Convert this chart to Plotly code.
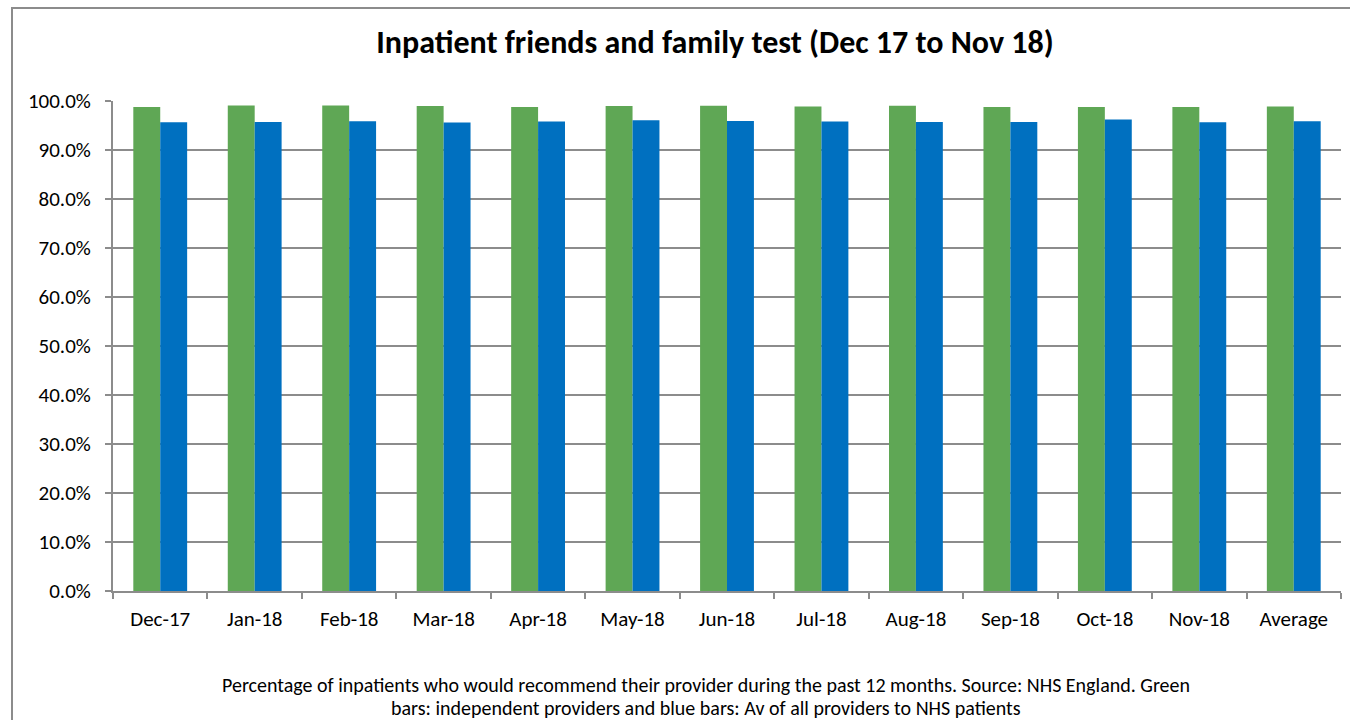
import plotly.graph_objects as go

categories = ["Dec-17", "Jan-18", "Feb-18", "Mar-18", "Apr-18", "May-18", "Jun-18",
              "Jul-18", "Aug-18", "Sep-18", "Oct-18", "Nov-18", "Average"]
independent = [0.988, 0.991, 0.991, 0.990, 0.988, 0.990, 0.9905,
               0.989, 0.9905, 0.988, 0.988, 0.988, 0.989]
all_providers = [0.9565, 0.957, 0.9585, 0.956, 0.958, 0.9605, 0.959,
                 0.958, 0.957, 0.957, 0.9625, 0.9565, 0.9585]
y_ticks = [i / 10 for i in range(11)]
title_text = "<b>Inpatient friends and family test (Dec 17 to Nov 18)</b>"
caption_1 = ("Percentage of inpatients who would recommend their provider during the past 12 months. "
             "Source: NHS England. Green")
caption_2 = "bars: independent providers and blue bars: Av of all providers to NHS patients"

FONT = "Carlito, Calibri, Lato, 'Noto Sans', sans-serif"
GRID = "#8C8C8C"

fig = go.Figure()
fig.add_trace(go.Bar(x=categories, y=independent, marker=dict(color="#5FA755", line=dict(width=0)),
                     name="Independent providers"))
fig.add_trace(go.Bar(x=categories, y=all_providers, marker=dict(color="#0070C0", line=dict(width=0)),
                     name="All providers"))

PL, PT, PW, PH = 113, 101, 1228, 490

def px_x(x):
    return (x - PL) / PW

def px_y(y):
    return (PT + PH - y) / PH

fig.update_layout(
    width=1350, height=720,
    margin=dict(l=PL, r=1350 - PL - PW, t=PT, b=720 - PT - PH),
    paper_bgcolor="white", plot_bgcolor="white",
    barmode="group", bargap=0.43, bargroupgap=0,
    showlegend=False,
    font=dict(family=FONT, size=21, color="#000000"),
    title=dict(text=title_text, x=715 / 1350, xanchor="center", y=1 - 42 / 720, yanchor="middle",
               font=dict(family=FONT, size=32, color="#000000")),
    xaxis=dict(showline=True, linecolor=GRID, linewidth=2, ticks="outside",
               tickson="boundaries", ticklen=6, tickcolor=GRID, tickwidth=2,
               showgrid=False, tickfont=dict(size=21), ticklabelstandoff=8),
    yaxis=dict(range=[0, 1.0], tickvals=y_ticks, tickformat=".1%", showgrid=True,
               gridcolor=GRID, gridwidth=2, showline=True, linecolor=GRID,
               linewidth=2, ticks="outside", ticklen=6, tickcolor=GRID, tickwidth=2,
               tickfont=dict(size=21), zeroline=False, ticklabelstandoff=10),
    shapes=[dict(type="rect", xref="paper", yref="paper",
                 x0=px_x(12), x1=1.3, y0=-0.5, y1=px_y(8),
                 line=dict(color=GRID, width=2), fillcolor="rgba(0,0,0,0)", layer="below")],
    annotations=[
        dict(text=caption_1, xref="paper", yref="paper", x=px_x(706), y=px_y(685),
             xanchor="center", yanchor="middle", showarrow=False,
             font=dict(family=FONT, size=20, color="#000000")),
        dict(text=caption_2, xref="paper", yref="paper", x=px_x(706), y=px_y(708),
             xanchor="center", yanchor="middle", showarrow=False,
             font=dict(family=FONT, size=20, color="#000000")),
    ],
)

fig.write_html("out.html", config={"displayModeBar": False},
               post_script="document.body.style.margin='0';document.body.style.overflow='hidden';")
